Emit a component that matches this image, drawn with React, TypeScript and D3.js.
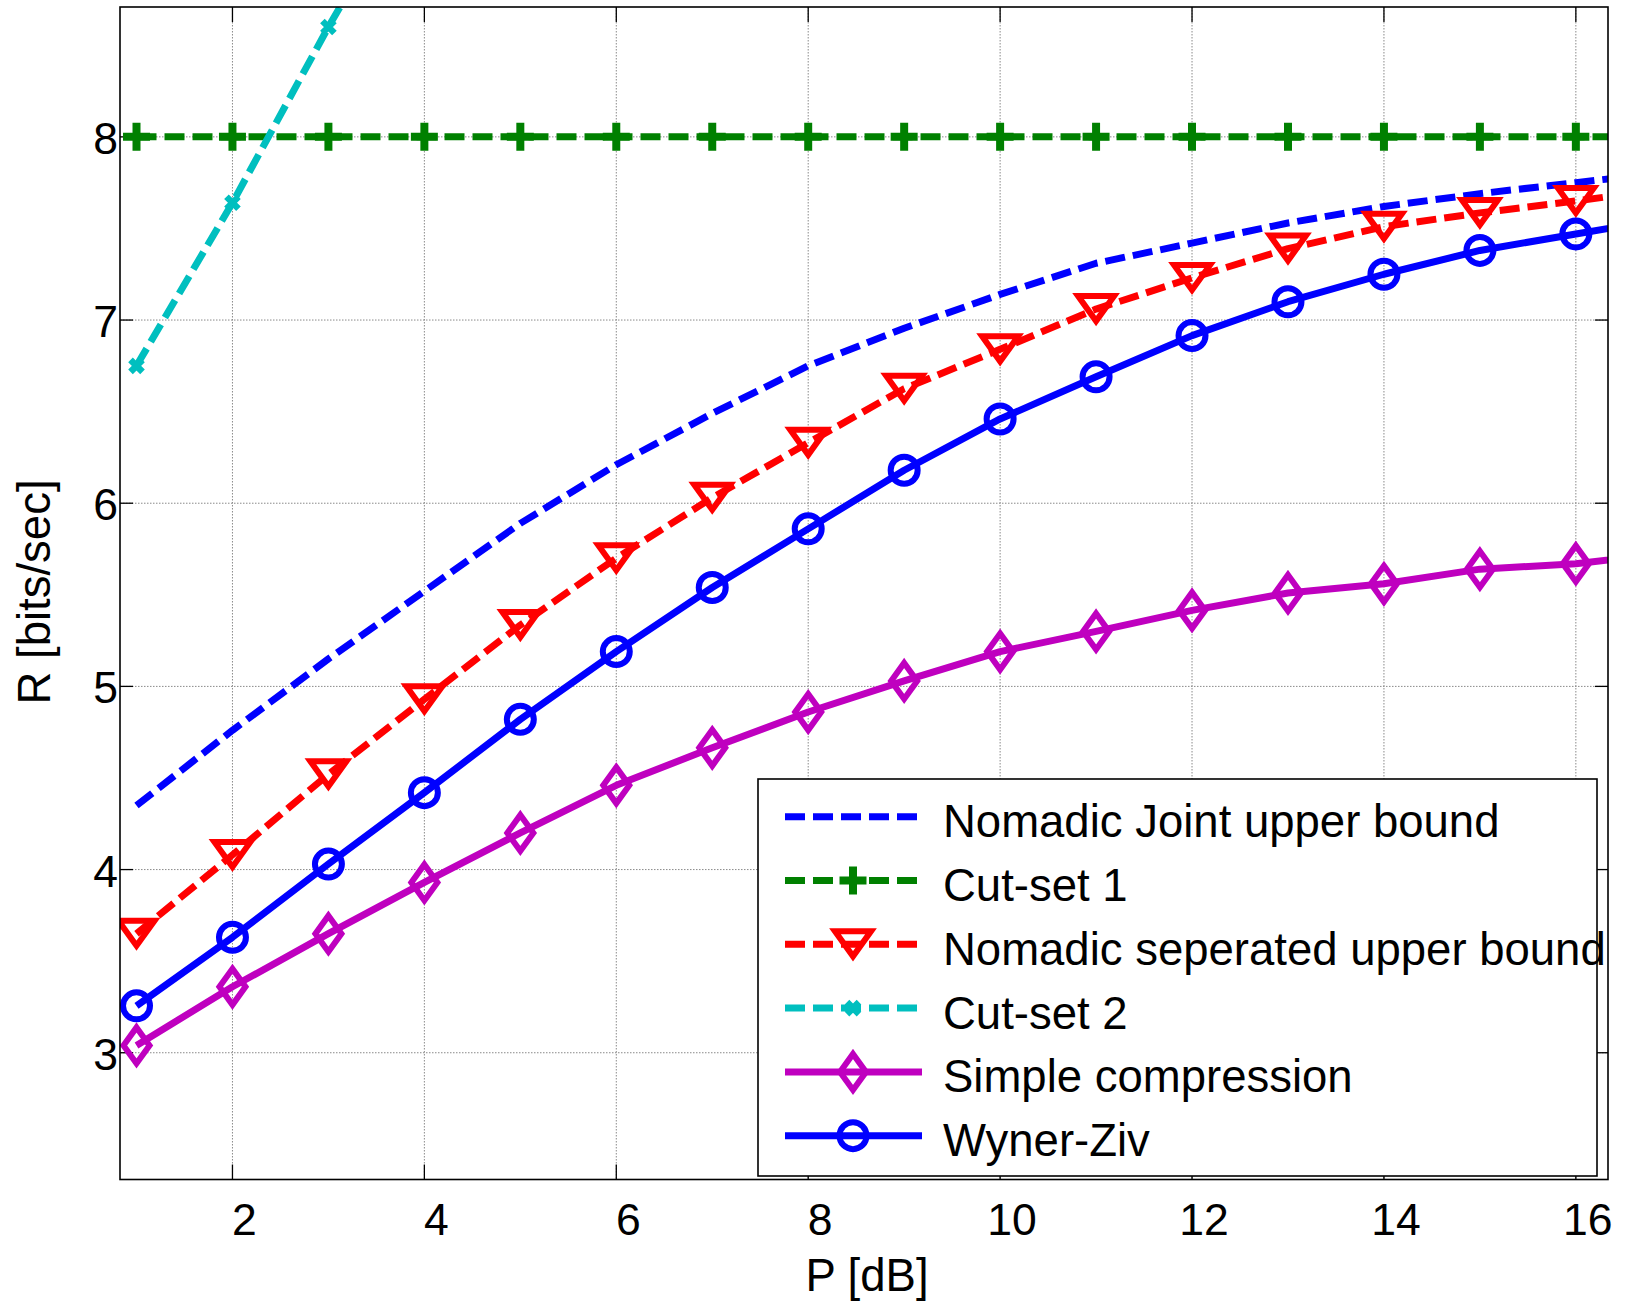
import * as d3 from "d3";
import React from "react";

// P [dB] sample points (17 is past the right edge, only there so the lines run to the border)
const pdb = [1, 2, 3, 4, 5, 6, 7, 8, 9, 10, 11, 12, 13, 14, 15, 16, 17];
const nomadicJoint = [4.35, 4.76, 5.15, 5.52, 5.89, 6.21, 6.49, 6.75, 6.955, 7.14, 7.31, 7.42, 7.53, 7.62, 7.69, 7.75, 7.81];
const cutSet1 = [8, 8, 8, 8, 8, 8, 8, 8, 8, 8, 8, 8, 8, 8, 8, 8, 8];
const nomadicSep = [3.65, 4.08, 4.52, 4.93, 5.335, 5.7, 6.03, 6.33, 6.625, 6.84, 7.06, 7.23, 7.39, 7.51, 7.585, 7.65, 7.72];
const cutSet2 = [6.75, 7.64, 8.6, 9.5];
const simpleComp = [3.04, 3.36, 3.65, 3.93, 4.2, 4.46, 4.665, 4.86, 5.03, 5.19, 5.3, 5.415, 5.51, 5.56, 5.64, 5.67, 5.73];
const wynerZiv = [3.256, 3.63, 4.03, 4.42, 4.82, 5.19, 5.54, 5.86, 6.18, 6.46, 6.69, 6.915, 7.1, 7.25, 7.38, 7.47, 7.56];

const xTicks = [2, 4, 6, 8, 10, 12, 14, 16];
const yTicks = [3, 4, 5, 6, 7, 8];

type Marker = "none" | "plus" | "tri" | "x" | "diamond" | "circle";

const series: { name: string; values: number[]; color: string; dash: string | null; marker: Marker }[] = [
  { name: "Nomadic Joint upper bound", values: nomadicJoint, color: "#0000ff", dash: "20,8", marker: "none" },
  { name: "Cut-set 1", values: cutSet1, color: "#008000", dash: "20,8", marker: "plus" },
  { name: "Nomadic seperated upper bound", values: nomadicSep, color: "#ff0000", dash: "20,8", marker: "tri" },
  { name: "Cut-set 2", values: cutSet2, color: "#00bfbf", dash: "20,8", marker: "x" },
  { name: "Simple compression", values: simpleComp, color: "#bf00bf", dash: null, marker: "diamond" },
  { name: "Wyner-Ziv", values: wynerZiv, color: "#0000ff", dash: null, marker: "circle" },
];

const W = 1630;
const H = 1302;
const left = 120;
const right = 1608;
const top = 7;
const bottom = 1179.5;
const FONT = "'Liberation Sans', Arial, Helvetica, sans-serif";

const x = d3.scaleLinear().domain([0.828, 16.335]).range([left, right]);
const y = d3.scaleLinear().domain([2.308, 8.709]).range([bottom, top]);

function MarkerShape({ kind, cx, cy, color }: { kind: Marker; cx: number; cy: number; color: string }) {
  const sw = 6;
  if (kind === "circle")
    return <circle cx={cx} cy={cy} r={13.5} fill="none" stroke={color} strokeWidth={sw} />;
  if (kind === "diamond")
    return (
      <path
        d={`M${cx},${cy - 18}L${cx + 13},${cy}L${cx},${cy + 18}L${cx - 13},${cy}Z`}
        fill="none"
        stroke={color}
        strokeWidth={sw}
        strokeLinejoin="miter"
      />
    );
  if (kind === "tri")
    return (
      <path
        d={`M${cx - 18},${cy - 13}L${cx + 18},${cy - 13}L${cx},${cy + 12}Z`}
        fill="none"
        stroke={color}
        strokeWidth={sw}
        strokeLinejoin="miter"
      />
    );
  if (kind === "plus")
    return (
      <path
        d={`M${cx - 13.5},${cy}H${cx + 13.5}M${cx},${cy - 14}V${cy + 14}`}
        stroke={color}
        strokeWidth={8}
      />
    );
  if (kind === "x")
    return (
      <path
        d={`M${cx - 6},${cy - 6}L${cx + 6},${cy + 6}M${cx + 6},${cy - 6}L${cx - 6},${cy + 6}`}
        stroke={color}
        strokeWidth={6.5}
      />
    );
  return null;
}

export default function App() {
  const line = d3
    .line<number>()
    .x((_, i) => x(pdb[i]))
    .y((d) => y(d));

  const legX = 758;
  const legY = 779;
  const legW = 839;
  const legH = 397;
  const row0 = 816.7;
  const rowStep = 63.8;

  return (
    <div style={{ position: "absolute", left: 0, top: 0 }}>
      <svg width={W} height={H} style={{ display: "block", background: "#fff" }}>
        <defs>
          <clipPath id="plot">
            <rect x={left} y={top} width={right - left} height={bottom - top} />
          </clipPath>
        </defs>
        <rect x={0} y={0} width={W} height={H} fill="#fff" />

        {/* grid */}
        <g stroke="#8a8a8a" strokeWidth={1} strokeDasharray="1.5,1.5">
          {xTicks.map((t) => (
            <line key={"gx" + t} x1={x(t)} x2={x(t)} y1={top} y2={bottom} />
          ))}
          {yTicks.map((t) => (
            <line key={"gy" + t} x1={left} x2={right} y1={y(t)} y2={y(t)} />
          ))}
        </g>

        {/* ticks */}
        <g stroke="#000" strokeWidth={1.3}>
          {xTicks.map((t) => (
            <g key={"tx" + t}>
              <line x1={x(t)} x2={x(t)} y1={bottom} y2={bottom - 15} />
              <line x1={x(t)} x2={x(t)} y1={top} y2={top + 15} />
            </g>
          ))}
          {yTicks.map((t) => (
            <g key={"ty" + t}>
              <line x1={left} x2={left + 13} y1={y(t)} y2={y(t)} />
              <line x1={right} x2={right - 13} y1={y(t)} y2={y(t)} />
            </g>
          ))}
        </g>

        {/* data */}
        <g clipPath="url(#plot)">
          {series.map((s) => (
            <path
              key={s.name}
              d={line(s.values) ?? ""}
              fill="none"
              stroke={s.color}
              strokeWidth={7}
              strokeDasharray={s.dash ?? undefined}
              strokeLinejoin="round"
            />
          ))}
          {series.map((s) =>
            s.values.map((v, i) =>
              pdb[i] <= 16 && v <= 8.709 ? (
                <MarkerShape key={s.name + i} kind={s.marker} cx={x(pdb[i])} cy={y(v)} color={s.color} />
              ) : null
            )
          )}
        </g>

        {/* axes box */}
        <rect x={left} y={top} width={right - left} height={bottom - top} fill="none" stroke="#000" strokeWidth={1.6} />

        {/* tick labels */}
        <g fontFamily={FONT} fontSize={44.5} fill="#000">
          {xTicks.map((t) => (
            <text key={"lx" + t} x={x(t) + 12} y={1235} textAnchor="middle">
              {t}
            </text>
          ))}
          {yTicks.map((t) => (
            <text key={"ly" + t} x={118} y={y(t) + 17} textAnchor="end">
              {t}
            </text>
          ))}
        </g>

        {/* axis labels */}
        <text x={867} y={1291} textAnchor="middle" fontFamily={FONT} fontSize={45.5}>
          P [dB]
        </text>
        <text
          transform="translate(50,592) rotate(-90)"
          textAnchor="middle"
          fontFamily={FONT}
          fontSize={45.5}
        >
          R [bits/sec]
        </text>

        {/* legend */}
        <rect x={legX} y={legY} width={legW} height={legH} fill="#fff" stroke="#000" strokeWidth={1.6} />
        {series.map((s, i) => {
          const cy = row0 + i * rowStep;
          return (
            <g key={"leg" + s.name}>
              <line
                x1={785}
                x2={s.dash ? 918 : 922}
                y1={cy}
                y2={cy}
                stroke={s.color}
                strokeWidth={7}
                strokeDasharray={s.dash ?? undefined}
              />
              <MarkerShape kind={s.marker} cx={853} cy={cy} color={s.color} />
              <text x={943} y={cy + 20.5} fontFamily={FONT} fontSize={45.5} fill="#000">
                {s.name}
              </text>
            </g>
          );
        })}
      </svg>
    </div>
  );
}
